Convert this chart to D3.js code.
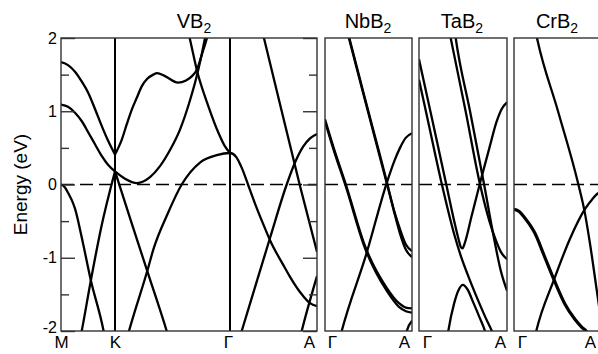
<!DOCTYPE html>
<html><head><meta charset="utf-8">
<script src="https://cdn.jsdelivr.net/npm/d3@7"></script>
<style>
body{margin:0;background:#fff}
svg{display:block}
text{font-family:"Liberation Sans",Arial,Helvetica,sans-serif;fill:#000}
</style>
</head><body>
<svg id="c" width="598" height="354"></svg>
<script>
// ---------- data ----------
const yTickValues = [-2, -1, 0, 1, 2];
const yMinorTicks = [-1.5, -0.5, 0.5, 1.5];
const panelNames = ["VB", "NbB", "TaB", "CrB"];
const yLabel = "Energy (eV)";
const vbKLabels = ["M", "K", "Γ", "A"];
const vbKPos = [0, 0.54, 1.69, 2.56];
const gaKLabels = ["Γ", "A"];
const gaKPos = [0, 1];

// VB2 bands along M-K-Γ-A, [k, E(eV)]
const vbBands = [
  [[0,1.67],[0.07,1.63],[0.14,1.54],[0.21,1.40],[0.273,1.25],[0.34,1.03],[0.407,0.80],[0.47,0.60],[0.54,0.41]],
  [[0,1.09],[0.07,1.06],[0.14,0.98],[0.21,0.86],[0.273,0.71],[0.34,0.55],[0.407,0.39],[0.47,0.27],[0.54,0.18]],
  [[0,0],[0.04,-0.04],[0.073,-0.12],[0.11,-0.22],[0.14,-0.33],[0.207,-0.72],[0.297,-1.30],[0.423,-1.98],[0.44,-2.1]],
  [[0.18,-2.18],[0.207,-2.0],[0.297,-1.32],[0.4,-0.6],[0.54,0.18]],
  [[0.54,0.41],[0.58,0.52],[0.607,0.61],[0.657,0.82],[0.707,1.02],[0.757,1.18],[0.807,1.34],[0.86,1.44],[0.923,1.50],[0.96,1.52],[1.04,1.48],[1.17,1.39],[1.25,1.42],[1.31,1.48],[1.36,1.57],[1.41,1.78],[1.46,2.0],[1.48,2.1]],
  [[0.54,0.18],[0.64,0.08],[0.76,0.02],[0.89,0.1],[0.99,0.25],[1.09,0.47],[1.19,0.75],[1.29,1.15],[1.37,1.55],[1.44,2.0],[1.46,2.15]],
  [[0.54,0.18],[0.7,-0.5],[0.867,-1.2],[1.057,-2.0],[1.09,-2.15]],
  [[1.26,2.15],[1.29,1.98],[1.357,1.57],[1.473,1.07],[1.573,0.71],[1.64,0.52],[1.69,0.43]],
  [[0.65,-2.15],[0.68,-2.0],[0.867,-1.16],[0.923,-0.89],[1.06,-0.42],[1.207,0],[1.39,0.3],[1.557,0.40],[1.69,0.43],[1.75,0.38],[1.81,0.22],[1.87,0.0],[1.94,-0.26],[2.01,-0.5],[2.09,-0.76],[2.24,-1.14],[2.29,-1.26],[2.42,-1.52],[2.49,-1.62],[2.56,-1.66]],
  [[1.78,-2.12],[1.807,-2.0],[2.09,-0.73],[2.257,0],[2.34,0.3],[2.423,0.52],[2.49,0.63],[2.56,0.69]],
  [[2.0,2.16],[2.033,1.98],[2.39,-0.02],[2.56,-0.92]],
  [[2.38,-2.15],[2.407,-2.0],[2.56,-1.25]]
];

// NbB2 bands along Γ-A
const nbBands = [
  [[0.26,2.07],[0.279,1.98],[0.5,0.97],[0.709,0.02],[0.8,-0.38],[0.862,-0.61],[0.93,-0.82],[1.0,-0.91]],
  [[0.265,2.07],[0.284,1.98],[0.505,0.97],[0.714,0.02],[0.8,-0.40],[0.862,-0.67],[0.93,-0.89],[1.0,-0.99]],
  [[0,0.89],[0.1,0.5],[0.24,0.0],[0.46,-0.84],[0.709,-1.41],[0.85,-1.62],[0.93,-1.68],[1.0,-1.69]],
  [[0,0.86],[0.1,0.47],[0.24,-0.03],[0.46,-0.87],[0.709,-1.45],[0.85,-1.67],[0.93,-1.73],[1.0,-1.75]],
  [[0.17,-2.1],[0.192,-2.0],[0.48,-0.93],[0.709,0.02],[0.8,0.33],[0.862,0.5],[0.93,0.64],[1.0,0.7]],
  [[0.92,-2.1],[0.94,-2.0],[1.0,-1.86]]
];

// TaB2 bands along Γ-A
const taBands = [
  [[0,1.71],[0.1,1.16],[0.2,0.61],[0.31,0.0],[0.4,-0.5],[0.45,-0.75],[0.474,-0.85],[0.495,-0.87],[0.52,-0.8],[0.6,-0.42],[0.70,0.05],[0.80,0.5],[0.88,0.85],[0.94,1.03],[1.0,1.12]],
  [[0,1.43],[0.1,0.88],[0.26,0.0],[0.4,-0.68],[0.474,-0.97],[0.55,-1.22],[0.65,-1.52],[0.75,-1.8],[0.845,-2.05],[0.86,-2.1]],
  [[0.35,2.06],[0.36,2.0],[0.53,1.0],[0.69,0.02],[0.8,-0.5],[0.87,-0.75],[0.93,-0.92],[1.0,-1.02]],
  [[0.41,2.06],[0.417,2.0],[0.58,1.0],[0.74,0.0],[0.85,-0.72],[0.93,-1.18],[1.0,-1.45]],
  [[0.32,-2.1],[0.333,-2.0],[0.40,-1.62],[0.45,-1.44],[0.50,-1.37],[0.55,-1.43],[0.62,-1.62],[0.69,-1.82],[0.75,-2.0],[0.77,-2.08]]
];

// CrB2 bands along Γ-A
const crBands = [
  [[0.25,2.08],[0.268,1.98],[0.506,1.0],[0.736,0.02],[0.81,-0.36],[0.87,-0.78],[0.946,-1.4],[1.0,-1.85]],
  [[0,-0.34],[0.06,-0.37],[0.12,-0.45],[0.238,-0.66],[0.35,-0.98],[0.46,-1.30],[0.58,-1.62],[0.70,-1.84],[0.78,-1.95],[0.84,-2.02],[0.86,-2.1]],
  [[0.24,-2.08],[0.256,-2.0],[0.46,-1.30],[0.64,-0.75],[0.813,-0.34],[0.9,-0.2],[0.966,-0.12],[1.0,-0.1]]
];
const crThickBand = 1;

// ---------- layout ----------
const svg = d3.select("#c");
const yTop = 38, yBot = 331;
const y = d3.scaleLinear().domain([-2, 2]).range([yBot, yTop]);

const panels = [
  {x0: 61,  x1: 317, dom: [0, 2.56], bands: vbBands, labels: vbKLabels, pos: vbKPos, titleX: 194, lblDx: [0, 0, -2, -8]},
  {x0: 325, x1: 412, dom: [0, 1], bands: nbBands, labels: gaKLabels, pos: gaKPos, titleX: 368, lblDx: [7, -8]},
  {x0: 419, x1: 507, dom: [0, 1], bands: taBands, labels: gaKLabels, pos: gaKPos, titleX: 462, lblDx: [8, -7]},
  {x0: 514, x1: 601, dom: [0, 1], bands: crBands, labels: gaKLabels, pos: gaKPos, titleX: 557, lblDx: [8, -11]}
];

const defs = svg.append("defs");

panels.forEach((p, pi) => {
  const x = d3.scaleLinear().domain(p.dom).range([p.x0, p.x1]);
  const g = svg.append("g");
  const clipId = "clip" + pi;
  defs.append("clipPath").attr("id", clipId).append("rect")
    .attr("x", p.x0).attr("y", yTop).attr("width", p.x1 - p.x0).attr("height", yBot - yTop);

  const inner = g.append("g").attr("clip-path", `url(#${clipId})`);

  inner.append("line")
    .attr("x1", p.x0).attr("x2", p.x1).attr("y1", y(0)).attr("y2", y(0))
    .attr("stroke", "#000").attr("stroke-width", 1.5).attr("stroke-dasharray", "13,6");

  p.pos.slice(1, -1).forEach(k => {
    inner.append("line").attr("x1", x(k)).attr("x2", x(k)).attr("y1", yTop).attr("y2", yBot)
      .attr("stroke", "#000").attr("stroke-width", 2);
  });

  const line = d3.line().x(d => x(d[0])).y(d => y(d[1])).curve(d3.curveMonotoneX);
  inner.selectAll("path.band").data(p.bands).join("path")
    .attr("class", "band")
    .attr("d", line)
    .attr("fill", "none").attr("stroke", "#000")
    .attr("stroke-width", (d, i) => (pi === 3 && i === crThickBand) ? 3.2 : 2.3)
    .attr("stroke-linejoin", "round");

  g.append("rect").attr("x", p.x0).attr("y", yTop).attr("width", p.x1 - p.x0).attr("height", yBot - yTop)
    .attr("fill", "none").attr("stroke", "#333").attr("stroke-width", 1.4);

  const xa = d3.axisBottom(x).tickValues(p.pos).tickFormat((d, i) => p.labels[i]).tickSize(0).tickPadding(0);
  const xg = g.append("g").attr("transform", `translate(0,${yBot})`).call(xa);
  xg.select(".domain").remove();
  xg.selectAll("text").attr("font-size", 17).attr("font-family", null).attr("y", 17).attr("dy", 0)
    .attr("dx", (d, i) => p.lblDx[i]);

  const t = svg.append("text").attr("x", p.titleX).attr("y", 28).attr("text-anchor", "middle").attr("font-size", 20);
  t.append("tspan").text(panelNames[pi]);
  t.append("tspan").attr("dy", 5).attr("font-size", 14).text("2");

  if (pi === 0) {
    const yl = d3.axisLeft(y).tickValues(yTickValues).tickSize(-14).tickPadding(4).tickFormat(d => String(d));
    const ylg = g.append("g").attr("transform", `translate(${p.x0},0)`).call(yl);
    ylg.select(".domain").remove();
    ylg.selectAll("line").attr("stroke", "#333").attr("stroke-width", 1.4);
    ylg.selectAll("text").attr("font-size", 16).attr("font-family", null)
      .attr("y", d => d === -2 ? -4 : 0);
    const ylm = d3.axisLeft(y).tickValues(yMinorTicks).tickSize(-8).tickFormat("");
    const ylmg = g.append("g").attr("transform", `translate(${p.x0},0)`).call(ylm);
    ylmg.select(".domain").remove();
    ylmg.selectAll("line").attr("stroke", "#333").attr("stroke-width", 1.4);

    const yr = d3.axisRight(y).tickValues(yTickValues).tickSize(-14).tickFormat("");
    const yrg = g.append("g").attr("transform", `translate(${p.x1},0)`).call(yr);
    yrg.select(".domain").remove();
    yrg.selectAll("line").attr("stroke", "#333").attr("stroke-width", 1.4);
    const yrm = d3.axisRight(y).tickValues(yMinorTicks).tickSize(-8).tickFormat("");
    const yrmg = g.append("g").attr("transform", `translate(${p.x1},0)`).call(yrm);
    yrmg.select(".domain").remove();
    yrmg.selectAll("line").attr("stroke", "#333").attr("stroke-width", 1.4);
  }
});

svg.append("text").attr("transform", `translate(27,${y(0)}) rotate(-90)`)
  .attr("text-anchor", "middle").attr("font-size", 19).text(yLabel);
</script>
</body></html>
